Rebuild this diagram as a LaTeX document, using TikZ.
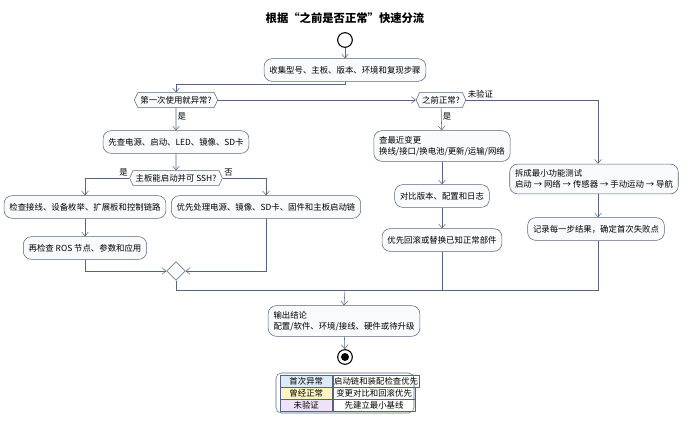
\documentclass[tikz,border=0pt]{standalone}
\usepackage{fontspec}
\setmainfont{Noto Sans CJK SC}
\usetikzlibrary{shapes.symbols,shapes.geometric,arrows.meta}
\definecolor{linec}{HTML}{56657F}
\definecolor{boxfill}{HTML}{F9FAFC}
\definecolor{legA}{HTML}{DCEBF8}
\definecolor{legB}{HTML}{FFF4C2}
\definecolor{legC}{HTML}{EEE2F6}
\tikzset{
  act/.style={draw=linec,fill=boxfill,rounded corners=6pt,align=left,inner sep=4pt,minimum height=17pt,font=\fontsize{6.3}{8.5}\selectfont},
  cond/.style={draw=linec,fill=boxfill,signal,signal to=west and east,signal pointer angle=130,inner sep=2pt,minimum height=11pt,font=\fontsize{6.3}{7}\selectfont},
  flow/.style={draw=linec,-{Straight Barb[length=3pt,width=5pt]}},
  link/.style={draw=linec},
  lbl/.style={font=\fontsize{6.3}{7}\selectfont,inner sep=1pt},
  cell/.style={draw=linec,font=\fontsize{6.3}{7}\selectfont,inner sep=1pt,minimum height=9pt,anchor=west}
}
\begin{document}
\begin{tikzpicture}[x=0.75pt,y=-0.75pt]
\useasboundingbox (0,0) rectangle (690,421);
\node[font=\bfseries\fontsize{8.5}{10}\selectfont] (title) at (345,18) {根据“之前是否正常”快速分流};
\node[circle,draw=black,thick,minimum size=11pt,inner sep=0] (start) at (345,40) {};
\node[act] (collect) at (345,70) {收集型号、主板、版本、环境和复现步骤};
\node[cond] (first) at (176,100) {第一次使用就异常?};
\node[cond] (before) at (441,100) {之前正常?};
\node[act] (power) at (176,142) {先查电源、启动、LED、镜像、SD卡};
\node[cond] (ssh) at (176,178) {主板能启动并可 SSH?};
\node[act] (wiring) at (85,207) {检查接线、设备枚举、扩展板和控制链路};
\node[act] (ros) at (85,248) {再检查 ROS 节点、参数和应用};
\node[act] (boot) at (266,207) {优先处理电源、镜像、SD卡、固件和主板启动链};
\node[diamond,draw=linec,fill=boxfill,minimum size=14pt,inner sep=0] (merge) at (176,271) {};
\node[act] (change) at (442,146) {查最近变更\\换线/接口/换电池/更新/运输/网络};
\node[act] (compare) at (442,196) {对比版本、配置和日志};
\node[act] (rollback) at (442,240) {优先回滚或替换已知正常部件};
\node[act] (minimal) at (594,179) {拆成最小功能测试\\启动 → 网络 → 传感器 → 手动运动 → 导航};
\node[act] (record) at (596,229) {记录每一步结果，确定首次失败点};
\node[act] (result) at (344,321) {输出结论\\配置/软件、环境/接线、硬件或待升级};
\node[circle,draw=black,thick,minimum size=11pt,inner sep=0] (stop) at (345,357) {};
\node[circle,fill=black,minimum size=6pt,inner sep=0] at (stop) {};
\coordinate (joinL) at (176,290);
\coordinate (joinR) at (598,290);
\coordinate (joinM) at (345,290);
\draw[flow] (start) -- (collect);
\draw[flow] (collect.south) -- ++(0,3) -| (first.north);
\draw[flow] (first.east) -- (before.west);
\draw[flow] (first) -- node[lbl,right,pos=0.4] {是} (power);
\draw[flow] (power) -- (ssh);
\draw[flow] (ssh.west) -| (wiring.north);
\node[lbl,above left] at (ssh.west) {是};
\draw[flow] (ssh.east) -| (boot.north);
\node[lbl,above right] at (ssh.east) {否};
\draw[flow] (wiring) -- (ros);
\draw[flow] (ros.south) |- (merge.west);
\draw[flow] (boot.south) |- (merge.east);
\draw[flow] (before) -- node[lbl,right,pos=0.4] {是} (change);
\draw[flow] (before.east) -| (minimal.north -| joinR);
\node[lbl,above right] at (before.east) {未验证};
\draw[flow] (change) -- (compare);
\draw[flow] (compare) -- (rollback);
\draw[flow] (minimal.south -| joinR) -- (record.north -| joinR);
\draw[link] (merge.south) -- (joinL) -- (joinR) -- (record.south -| joinR);
\draw[link] (rollback.south) -- (rollback.south |- joinL);
\draw[flow] (joinM) -- (result.north);
\draw[flow] (result) -- (stop);
% legend
\draw[draw=linec,rounded corners=4pt,fill=white] (276,373) rectangle (414,413);
\node[cell,fill=legA,minimum width=39pt] (k1) at (280,381) {首次异常};
\node[cell,minimum width=62pt] (v1) at (k1.east) {启动链和装配检查优先};
\node[cell,fill=legB,minimum width=39pt] (k2) at (280,393) {曾经正常};
\node[cell,minimum width=62pt] (v2) at (k2.east) {变更对比和回滚优先};
\node[cell,fill=legC,minimum width=39pt] (k3) at (280,405) {未验证};
\node[cell,minimum width=62pt] (v3) at (k3.east) {先建立最小基线};
\end{tikzpicture}
\end{document}
